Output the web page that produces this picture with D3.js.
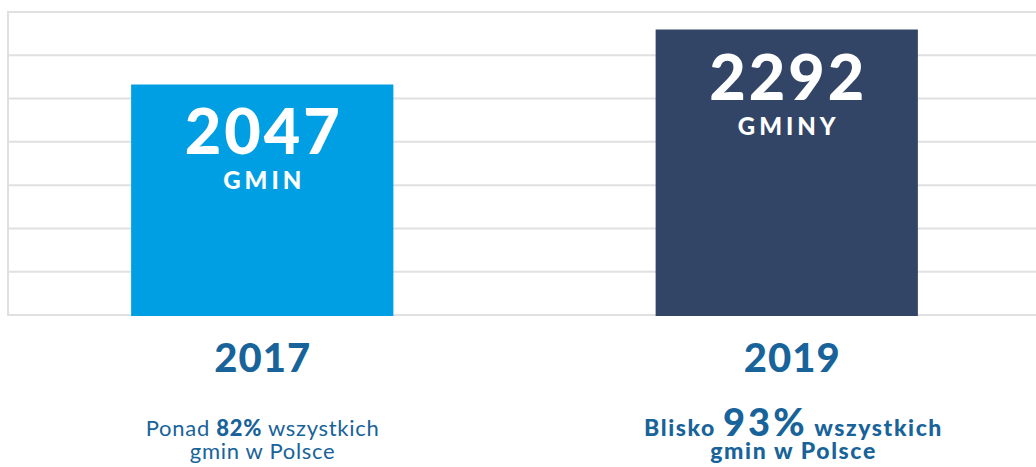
<!DOCTYPE html>
<html>
<head>
<meta charset="utf-8">
<script src="https://cdn.jsdelivr.net/npm/d3@7"></script>
<style>
  html, body { margin: 0; padding: 0; background: #fff; }
  svg { display: block; }
  text { font-family: "Lato", "Open Sans", sans-serif; }
</style>
</head>
<body>
<svg id="chart" width="1036" height="467"></svg>
<script>
const years = ["2017", "2019"];
const values = [2047, 2292];
const units = ["GMIN", "GMINY"];
const captionLead = ["Ponad", "Blisko"];
const shares = ["82%", "93%"];
const captionTail = ["wszystkich", "wszystkich"];
const captionLine2 = ["gmin w Polsce", "gmin w Polsce"];
const barColors = ["#009fe3", "#324566"];

const W = 1036, H = 467;
const svg = d3.select("#chart");

const x = d3.scaleBand().domain(years).range([0, 1049]).paddingInner(0.5).paddingOuter(0.25);
const y = d3.scaleLinear().domain([1020, 2370]).range([315, 12]);

// gridlines
const [d0, d1] = y.domain();
const gridVals = d3.range(8).map(i => d0 + i * (d1 - d0) / 7);
svg.append("g").selectAll("line").data(gridVals).join("line")
  .attr("x1", 8).attr("x2", W)
  .attr("y1", d => y(d)).attr("y2", d => y(d))
  .attr("stroke", "#e0e0e0").attr("stroke-width", 2);
svg.append("line")
  .attr("x1", 8).attr("x2", 8)
  .attr("y1", y(d1) - 1).attr("y2", y(d0) + 1)
  .attr("stroke", "#e0e0e0").attr("stroke-width", 2);

const data = years.map((yr, i) => ({ yr, v: values[i], unit: units[i], color: barColors[i], i }));

// bars
svg.append("g").selectAll("rect").data(data).join("rect")
  .attr("x", d => x(d.yr)).attr("width", x.bandwidth())
  .attr("y", d => y(d.v)).attr("height", d => y(d0) + 1 - y(d.v))
  .attr("fill", d => d.color);

// value labels
svg.append("g").selectAll("text").data(data).join("text")
  .attr("x", d => x(d.yr) + x.bandwidth() / 2 + 1.5)
  .attr("y", d => y(d.v) + 70)
  .attr("text-anchor", "middle")
  .attr("fill", "#fff").attr("font-weight", 900).attr("font-size", 63)
  .attr("letter-spacing", 3)
  .text(d => d.v);

svg.append("g").selectAll("text").data(data).join("text")
  .attr("x", d => x(d.yr) + x.bandwidth() / 2 + 2)
  .attr("y", d => y(d.v) + 105)
  .attr("text-anchor", "middle")
  .attr("fill", "#fff").attr("font-weight", 900).attr("font-size", 24)
  .attr("letter-spacing", 4)
  .text(d => d.unit);

// year labels
const textColor = "#17639a";
svg.append("g").selectAll("text").data(data).join("text")
  .attr("x", d => x(d.yr) + x.bandwidth() / 2 + (d.i ? 5 : 0) + 0.5)
  .attr("y", 372)
  .attr("text-anchor", "middle")
  .attr("fill", textColor).attr("font-weight", 900).attr("font-size", 40)
  .attr("letter-spacing", 1)
  .text(d => d.yr);

// captions
data.forEach(d => {
  const bold = d.i === 1;
  const ls = bold ? 1.6 : 0.7;
  const cx = x(d.yr) + x.bandwidth() / 2 + (d.i ? 6 : 0) + ls / 2;
  const t1 = svg.append("text")
    .attr("x", cx).attr("y", 436).attr("text-anchor", "middle")
    .attr("fill", textColor).attr("font-size", bold ? 23 : 22)
    .attr("letter-spacing", ls)
    .attr("font-weight", bold ? 900 : 400);
  t1.append("tspan").text(captionLead[d.i] + " ");
  t1.append("tspan").attr("font-weight", 900)
    .attr("font-size", bold ? 38 : 22)
    .attr("letter-spacing", bold ? 3 : ls)
    .text(shares[d.i]);
  t1.append("tspan").text(" " + captionTail[d.i]);
  svg.append("text")
    .attr("x", cx).attr("y", 459).attr("text-anchor", "middle")
    .attr("fill", textColor).attr("font-size", bold ? 23 : 22)
    .attr("letter-spacing", ls)
    .attr("font-weight", bold ? 900 : 400)
    .text(captionLine2[d.i]);
});
</script>
</body>
</html>
